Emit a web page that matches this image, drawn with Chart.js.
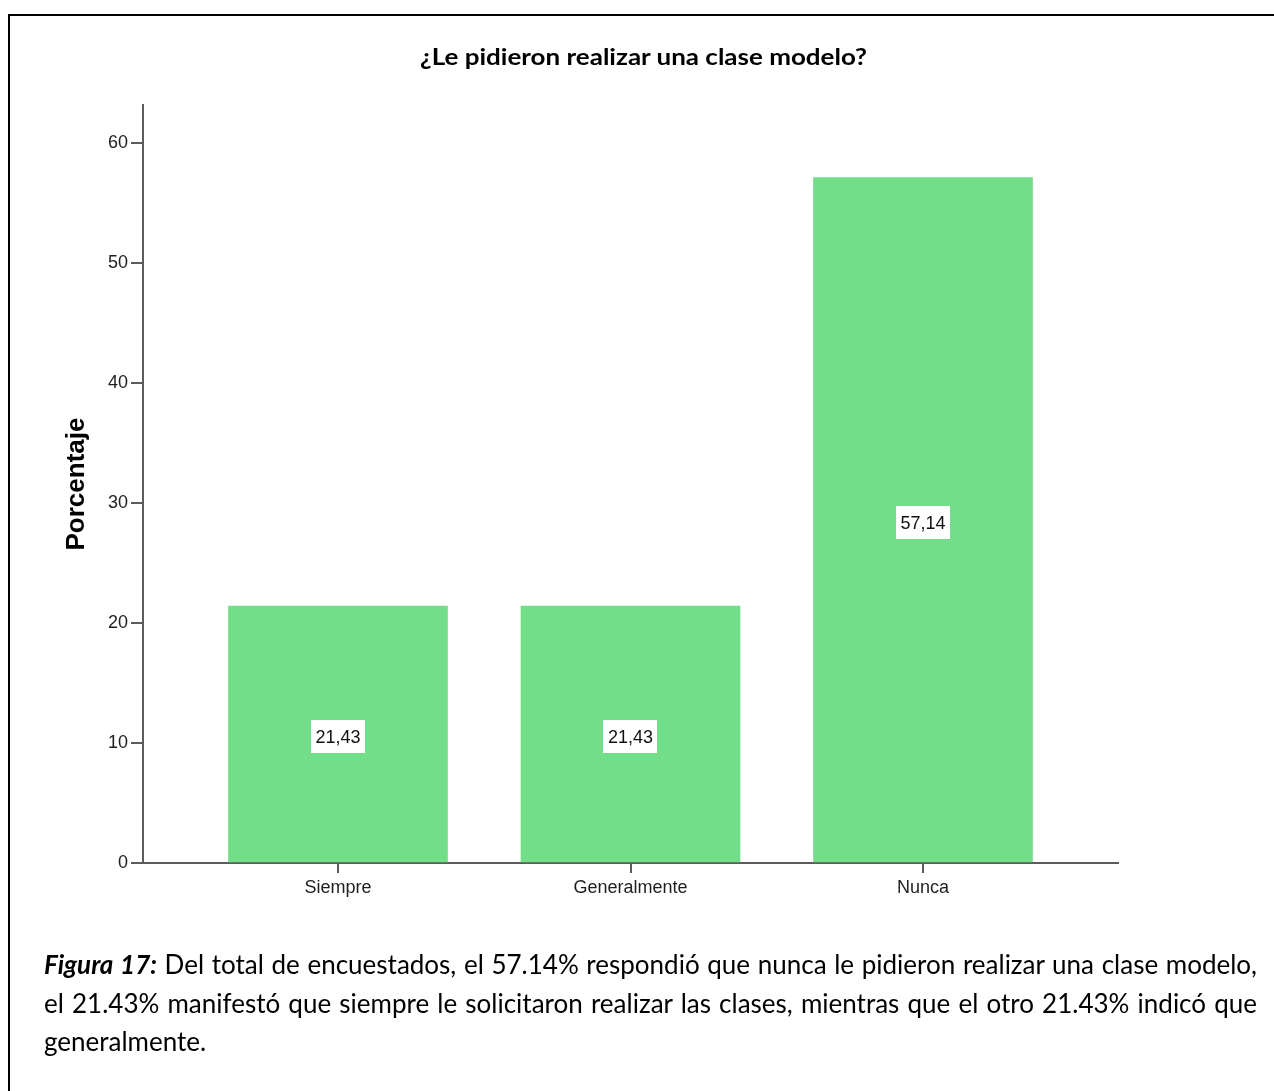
<!DOCTYPE html>
<html lang="es">
<head>
<meta charset="utf-8">
<title>¿Le pidieron realizar una clase modelo?</title>
<script src="https://cdn.jsdelivr.net/npm/chart.js@4.4.1/dist/chart.umd.min.js"></script>
<style>
  html, body { margin: 0; padding: 0; background: #fff; }
  body { width: 1274px; height: 1091px; position: relative; overflow: hidden; }
  #frame { position: absolute; left: 8px; top: 14px; right: -10px; bottom: -10px;
           border-left: 2px solid #000; border-top: 2px solid #000; }
  #chart { position: absolute; left: 0; top: 0; }
  .txt { position: absolute; white-space: nowrap; color: #000; transform-origin: 0 0; }
  #title { left: 420px; top: 45px; font: bold 23px/23px Lato, "Open Sans", sans-serif; }
  .cap { left: 44px; font: 26px/26px Lato, "Open Sans", sans-serif; }
  #cap1 { top: 951px; } #cap2 { top: 990px; } #cap3 { top: 1028px; }
</style>
</head>
<body>
<div id="frame"></div>
<canvas id="chart" width="1274" height="1091"></canvas>
<div id="title" class="txt">¿Le pidieron realizar una clase modelo?</div>
<div id="cap1" class="txt cap"><b><i>Figura 17:</i></b> Del total de encuestados, el 57.14% respondió que nunca le pidieron realizar una clase modelo,</div>
<div id="cap2" class="txt cap">el 21.43% manifestó que siempre le solicitaron realizar las clases, mientras que el otro 21.43% indicó que</div>
<div id="cap3" class="txt cap">generalmente.</div>
<script>
// Response categories and their percentages
const categories = ['Siempre', 'Generalmente', 'Nunca'];
const percentages = [21.43, 21.43, 57.14];
const yTicks = [0, 10, 20, 30, 40, 50, 60];

const AXIS = '#5c5c5c';
const TEXT = '#1e1e1e';

// White value boxes centred inside each bar
const barValueBoxes = {
  id: 'barValueBoxes',
  afterDatasetsDraw(chart) {
    const ctx = chart.ctx;
    const meta = chart.getDatasetMeta(0);
    ctx.save();
    ctx.font = '18px Arial, "Liberation Sans", sans-serif';
    ctx.textAlign = 'center';
    ctx.textBaseline = 'middle';
    meta.data.forEach((bar, i) => {
      const { x, y, base } = bar.getProps(['x', 'y', 'base'], true);
      const label = percentages[i].toFixed(2).replace('.', ',');
      const cy = (y + base) / 2 + 3;
      const w = ctx.measureText(label).width + 9;
      const h = 33;
      ctx.fillStyle = '#fff';
      ctx.fillRect(Math.round(x - w / 2), Math.round(cy - h / 2), Math.round(w), h);
      ctx.fillStyle = '#111';
      ctx.fillText(label, x, cy + 1);
    });
    ctx.restore();
  }
};

new Chart(document.getElementById('chart'), {
  type: 'bar',
  data: {
    datasets: [{
      data: percentages.map((v, i) => ({ x: i, y: v })),
      backgroundColor: '#73de89',
      borderWidth: 0,
      barThickness: 219
    }]
  },
  options: {
    responsive: false,
    devicePixelRatio: 1,
    animation: false,
    layout: { padding: { top: 105, right: 156, bottom: 178, left: 0 } },
    plugins: { legend: { display: false }, tooltip: { enabled: false }, title: { display: false } },
    scales: {
      x: {
        type: 'linear',
        offset: false,
        min: -2 / 3,
        max: 8 / 3,
        afterBuildTicks: s => { s.ticks = categories.map((_, i) => ({ value: i })); },
        afterFit: s => { s.height = 50; },
        grid: { offset: false, drawOnChartArea: false, drawTicks: true, tickLength: 10, color: AXIS, lineWidth: 2 },
        border: { display: true, color: AXIS, width: 2 },
        ticks: {
          autoSkip: false,
          maxRotation: 0,
          padding: 4,
          color: TEXT,
          font: { family: 'Arial, "Liberation Sans", sans-serif', size: 18 },
          callback: v => categories[v]
        }
      },
      y: {
        min: 0,
        max: 63.2,
        afterBuildTicks: s => { s.ticks = yTicks.map(v => ({ value: v })); },
        afterFit: s => { s.width = 143; },
        grid: { drawOnChartArea: false, drawTicks: true, tickLength: 12, color: AXIS, lineWidth: 2 },
        border: { display: true, color: AXIS, width: 2 },
        ticks: {
          padding: 3,
          color: TEXT,
          font: { family: 'Arial, "Liberation Sans", sans-serif', size: 18 }
        },
        title: {
          display: true,
          text: 'Porcentaje',
          color: '#000',
          font: { family: 'Arial, "Liberation Sans", sans-serif', size: 26, weight: 'bold' },
          padding: { top: 61, bottom: 0 }
        }
      }
    }
  },
  plugins: [barValueBoxes]
});

// Fit title and justified caption lines to their column widths
function fitText() {
  const title = document.getElementById('title');
  const tw = title.getBoundingClientRect().width;
  title.style.transform = 'scaleX(' + (447 / tw) + ')';

  const target = 1213;
  let k = 1;
  ['cap1', 'cap2'].forEach(id => {
    const el = document.getElementById(id);
    const w = el.getBoundingClientRect().width;
    if (w > target) k = Math.min(k, target / w);
  });
  ['cap1', 'cap2'].forEach(id => {
    const el = document.getElementById(id);
    const w = el.getBoundingClientRect().width * k;
    const spaces = (el.textContent.match(/ /g) || []).length;
    if (k < 1) el.style.transform = 'scaleX(' + k + ')';
    const extra = (target - w) / k;
    if (extra > 0 && spaces) el.style.wordSpacing = (extra / spaces) + 'px';
  });
  if (k < 1) document.getElementById('cap3').style.transform = 'scaleX(' + k + ')';
}
if (document.fonts && document.fonts.ready) document.fonts.ready.then(fitText); else fitText();
</script>
</body>
</html>
